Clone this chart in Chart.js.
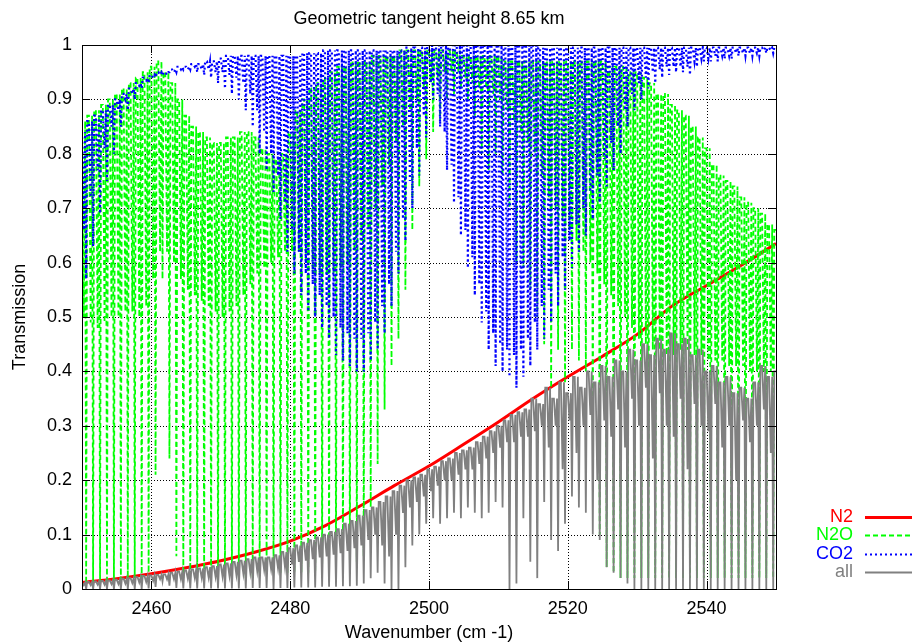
<!DOCTYPE html>
<html>
<head>
<meta charset="utf-8">
<script src="https://cdn.jsdelivr.net/npm/chart.js@4/dist/chart.umd.min.js"></script>
<style>
  html, body { margin: 0; padding: 0; background: #fff; }
  #chart { display: block; }
</style>
</head>
<body>
<canvas id="chart" width="912" height="643"></canvas>
<script>
// wavenumber grid (cm-1), one cell per line pair
const wavenumber = [
  2450,2451,2452,2453,2454,2455,2456,2457,2458,2459,
  2460,2461,2462,2463,2464,2465,2466,2467,2468,2469,
  2470,2471,2472,2473,2474,2475,2476,2477,2478,2479,
  2480,2481,2482,2483,2484,2485,2486,2487,2488,2489,
  2490,2491,2492,2493,2494,2495,2496,2497,2498,2499,
  2500,2501,2502,2503,2504,2505,2506,2507,2508,2509,
  2510,2511,2512,2513,2514,2515,2516,2517,2518,2519,
  2520,2521,2522,2523,2524,2525,2526,2527,2528,2529,
  2530,2531,2532,2533,2534,2535,2536,2537,2538,2539,
  2540,2541,2542,2543,2544,2545,2546,2547,2548,2549,
  2550
];

// N2 continuum
const n2Nu = [2450,2455,2460,2465,2470,2475,2480,2485,2490,2495,2500,2505,2510,2515,2520,2525,2530,2535,2540,2545,2550];
const n2Trans = [0.012,0.019,0.028,0.039,0.052,0.068,0.088,0.116,0.152,0.19,0.226,0.266,0.307,0.35,0.39,0.428,0.468,0.52,0.558,0.595,0.635];

// N2O: transmission between lines, weak-line minima, strong-line minima
const n2oTop = [
  0.86,0.87,0.88,0.89,0.90,0.91,0.92,0.93,0.94,0.95,
  0.96,0.97,0.95,0.93,0.90,0.87,0.85,0.84,0.83,0.82,
  0.82,0.83,0.83,0.84,0.84,0.83,0.81,0.80,0.79,0.80,
  0.84,0.88,0.90,0.92,0.93,0.94,0.95,0.96,0.96,0.97,
  0.97,0.97,0.98,0.98,0.98,0.98,0.99,0.99,0.99,0.99,
  0.99,0.99,0.99,0.99,0.99,0.98,0.98,0.98,0.98,0.98,
  0.98,0.97,0.97,0.97,0.97,0.97,0.97,0.97,0.97,0.97,
  0.97,0.97,0.97,0.97,0.97,0.97,0.96,0.96,0.96,0.95,
  0.95,0.94,0.93,0.91,0.91,0.89,0.88,0.87,0.85,0.83,
  0.81,0.78,0.76,0.75,0.74,0.72,0.71,0.70,0.69,0.67,
  0.66
];
const n2oWeak = [
  0.50,0.49,0.48,0.49,0.50,0.50,0.51,0.51,0.50,0.52,
  0.57,0.62,0.62,0.60,0.57,0.55,0.54,0.53,0.52,0.51,
  0.50,0.51,0.52,0.54,0.56,0.58,0.59,0.60,0.61,0.62,
  0.62,0.62,0.60,0.58,0.58,0.58,0.58,0.59,0.60,0.62,
  0.64,0.66,0.70,0.74,0.78,0.82,0.85,0.88,0.90,0.92,
  0.93,0.94,0.95,0.95,0.95,0.94,0.93,0.92,0.92,0.91,
  0.90,0.88,0.86,0.84,0.82,0.80,0.76,0.72,0.70,0.68,
  0.66,0.64,0.62,0.60,0.58,0.56,0.54,0.52,0.50,0.48,
  0.46,0.45,0.44,0.44,0.43,0.43,0.44,0.44,0.43,0.43,
  0.42,0.42,0.42,0.41,0.41,0.41,0.40,0.40,0.40,0.40
];
const n2oStrong = [
  0.01,0.01,0.01,0.01,0.01,0.01,0.02,0.02,0.02,0.03,
  0.21,0.57,0.24,0.06,0.02,0.02,0.02,0.02,0.02,0.02,
  0.02,0.02,0.02,0.02,0.02,0.03,0.03,0.03,0.03,0.03,
  0.03,0.03,0.03,0.03,0.03,0.04,0.04,0.04,0.04,0.05,
  0.06,0.15,0.23,0.33,0.41,0.46,0.55,0.66,0.74,0.79,
  0.84,0.86,0.90,0.91,0.92,0.90,0.87,0.80,0.77,0.80,
  0.76,0.70,0.60,0.59,0.55,0.50,0.45,0.37,0.44,0.38,
  0.44,0.42,0.40,0.30,0.10,0.04,0.03,0.02,0.02,0.02,
  0.02,0.02,0.02,0.02,0.02,0.02,0.02,0.02,0.02,0.02,
  0.02,0.02,0.02,0.02,0.02,0.02,0.02,0.02,0.02,0.02
];

// CO2
const co2Top = [
  0.84,0.86,0.87,0.88,0.89,0.90,0.91,0.92,0.93,0.94,
  0.945,0.95,0.95,0.955,0.96,0.96,0.965,0.965,0.97,0.97,
  0.975,0.98,0.98,0.98,0.98,0.98,0.98,0.98,0.98,0.98,
  0.98,0.98,0.985,0.985,0.985,0.99,0.99,0.99,0.99,0.99,
  0.99,0.99,0.99,0.99,0.99,0.99,0.99,0.995,0.995,0.995,
  1.0,1.0,1.0,1.0,1.0,1.0,1.0,1.0,1.0,1.0,
  1.0,1.0,1.0,1.0,1.0,1.0,0.995,0.995,0.995,0.995,
  0.995,0.995,0.995,0.995,0.995,0.995,0.995,0.995,0.995,0.995,
  0.995,0.995,0.995,0.995,0.995,0.995,0.995,0.995,0.995,0.995,
  0.995,0.995,0.995,0.995,0.995,0.995,0.995,0.995,0.995,0.995,
  0.995
];
const co2Weak = [
  0.66,0.72,0.77,0.81,0.85,0.88,0.90,0.91,0.925,0.935,
  0.94,0.945,0.945,0.95,0.955,0.955,0.96,0.955,0.955,0.95,
  0.95,0.945,0.94,0.93,0.91,0.88,0.84,0.80,0.76,0.71,
  0.66,0.62,0.58,0.56,0.54,0.52,0.50,0.48,0.47,0.46,
  0.46,0.47,0.49,0.52,0.56,0.62,0.68,0.75,0.81,0.87,
  0.93,0.91,0.84,0.78,0.72,0.66,0.61,0.56,0.51,0.47,
  0.45,0.44,0.43,0.44,0.46,0.49,0.52,0.55,0.58,0.61,
  0.64,0.67,0.70,0.73,0.76,0.79,0.82,0.85,0.88,0.91,
  0.93,0.94,0.95,0.955,0.96,0.96,0.96,0.96,0.97,0.975,
  0.975,0.98,0.98,0.98,0.985,0.985,0.985,0.985,0.99,0.99
];
const co2Strong = [
  0.57,0.63,0.69,0.75,0.80,0.85,0.88,0.90,0.92,0.93,
  0.94,0.945,0.95,0.95,0.955,0.955,0.95,0.945,0.94,0.93,
  0.92,0.91,0.90,0.88,0.85,0.80,0.77,0.73,0.68,0.62,
  0.58,0.54,0.51,0.50,0.48,0.46,0.43,0.42,0.41,0.40,
  0.40,0.42,0.44,0.47,0.52,0.58,0.64,0.70,0.76,0.83,
  0.90,0.85,0.77,0.71,0.65,0.59,0.54,0.49,0.44,0.41,
  0.40,0.39,0.37,0.39,0.41,0.44,0.46,0.49,0.52,0.55,
  0.59,0.62,0.65,0.68,0.71,0.74,0.77,0.80,0.85,0.88,
  0.90,0.92,0.93,0.94,0.945,0.95,0.95,0.945,0.96,0.97,
  0.97,0.97,0.975,0.975,0.98,0.98,0.98,0.98,0.985,0.985
];

// all species together
const allTop = [
  0.012,0.013,0.014,0.015,0.016,0.017,0.019,0.020,0.022,0.024,
  0.025,0.026,0.027,0.030,0.032,0.034,0.036,0.038,0.040,0.042,
  0.045,0.047,0.050,0.052,0.055,0.058,0.058,0.058,0.062,0.068,
  0.075,0.080,0.085,0.090,0.095,0.100,0.105,0.110,0.120,0.125,
  0.135,0.145,0.150,0.160,0.170,0.180,0.190,0.200,0.205,0.210,
  0.220,0.225,0.235,0.240,0.250,0.255,0.260,0.270,0.280,0.290,
  0.300,0.310,0.320,0.325,0.330,0.350,0.340,0.370,0.350,0.380,
  0.360,0.390,0.370,0.400,0.380,0.410,0.390,0.420,0.400,0.440,
  0.420,0.450,0.430,0.460,0.440,0.470,0.450,0.460,0.430,0.440,
  0.400,0.410,0.380,0.390,0.360,0.370,0.350,0.380,0.410,0.390,
  0.400
];
const allWeak = [
  0.007,0.007,0.008,0.008,0.009,0.009,0.010,0.011,0.012,0.013,
  0.015,0.018,0.018,0.018,0.018,0.019,0.020,0.020,0.021,0.022,
  0.023,0.024,0.026,0.028,0.030,0.033,0.035,0.036,0.038,0.040,
  0.045,0.050,0.052,0.055,0.058,0.060,0.063,0.066,0.070,0.075,
  0.080,0.090,0.100,0.080,0.060,0.100,0.140,0.150,0.160,0.170,
  0.180,0.190,0.200,0.200,0.210,0.220,0.220,0.230,0.240,0.250,
  0.260,0.270,0.270,0.280,0.280,0.290,0.300,0.260,0.300,0.220,
  0.310,0.250,0.300,0.320,0.200,0.310,0.280,0.330,0.260,0.350,
  0.300,0.370,0.240,0.360,0.300,0.280,0.350,0.220,0.340,0.300,
  0.290,0.340,0.260,0.300,0.200,0.310,0.270,0.300,0.330,0.250
];
const allStrong = [
  0.0,0.0,0.0,0.0,0.0,0.0,0.0,0.0,0.0,0.001,
  0.004,0.014,0.006,0.002,0.001,0.001,0.001,0.001,0.001,0.001,
  0.001,0.001,0.001,0.001,0.002,0.002,0.002,0.0,0.002,0.002,
  0.003,0.003,0.003,0.003,0.004,0.004,0.004,0.005,0.005,0.006,
  0.010,0.020,0.030,0.010,0.0,0.0,0.040,0.080,0.100,0.120,
  0.130,0.120,0.130,0.140,0.130,0.150,0.140,0.130,0.140,0.160,
  0.150,0.0,0.010,0.130,0.050,0.020,0.160,0.090,0.070,0.120,
  0.170,0.150,0.140,0.100,0.090,0.040,0.030,0.020,0.010,0.0,
  0.0,0.0,0.0,0.0,0.0,0.0,0.0,0.0,0.0,0.0,
  0.0,0.0,0.0,0.0,0.0,0.0,0.0,0.0,0.0,0.0
];

const xTicks = [2460, 2480, 2500, 2520, 2540];
const yTickLabels = ['0','0.1','0.2','0.3','0.4','0.5','0.6','0.7','0.8','0.9','1'];

const FONT = '"Liberation Sans", Arial, Helvetica, sans-serif';

// each cell: top, weak line minimum, top, strong line minimum, top
function spectrum(top, weak, strong) {
  const pts = [];
  for (let i = 0; i < strong.length; i++) {
    const nu = wavenumber[i];
    pts.push({ x: nu, y: top[i] });
    pts.push({ x: nu + 0.25, y: weak[i] });
    pts.push({ x: nu + 0.45, y: top[i] });
    pts.push({ x: nu + 0.6, y: strong[i] });
    pts.push({ x: nu + 0.75, y: top[i + 1] });
  }
  pts.push({ x: wavenumber[wavenumber.length - 1], y: top[top.length - 1] });
  return pts;
}

const series = [
  { label: 'N2',  color: '#ff0000', width: 3,   dash: [] },
  { label: 'N2O', color: '#00ff00', width: 1.8, dash: [5, 3] },
  { label: 'CO2', color: '#0000ff', width: 2.2, dash: [2, 3] },
  { label: 'all', color: '#808080', width: 1.8, dash: [] }
];

const framePlugin = {
  id: 'gnuplotFrame',
  beforeDatasetsDraw(chart) {
    const { ctx, chartArea: a, scales: { x, y } } = chart;
    ctx.save();
    ctx.strokeStyle = '#000';
    ctx.lineWidth = 1;
    ctx.setLineDash([1, 2]);
    xTicks.forEach(v => {
      const px = Math.round(x.getPixelForValue(v)) + 0.5;
      ctx.beginPath(); ctx.moveTo(px, a.top); ctx.lineTo(px, a.bottom); ctx.stroke();
    });
    for (let i = 1; i < yTickLabels.length - 1; i++) {
      const py = Math.round(y.getPixelForValue(i / 10)) + 0.5;
      ctx.beginPath(); ctx.moveTo(a.left, py); ctx.lineTo(a.right, py); ctx.stroke();
    }
    ctx.restore();
  },
  afterDatasetsDraw(chart) {
    const { ctx, chartArea: a, scales: { x, y } } = chart;
    ctx.save();
    ctx.strokeStyle = '#000';
    ctx.lineWidth = 1;
    ctx.setLineDash([]);
    ctx.strokeRect(Math.round(a.left) + 0.5, Math.round(a.top) + 0.5,
                   Math.round(a.right - a.left), Math.round(a.bottom - a.top));
    const tl = 8;
    ctx.beginPath();
    xTicks.forEach(v => {
      const px = Math.round(x.getPixelForValue(v)) + 0.5;
      ctx.moveTo(px, a.bottom); ctx.lineTo(px, a.bottom - tl);
      ctx.moveTo(px, a.top); ctx.lineTo(px, a.top + tl);
    });
    for (let i = 0; i < yTickLabels.length; i++) {
      const py = Math.round(y.getPixelForValue(i / 10)) + 0.5;
      ctx.moveTo(a.left, py); ctx.lineTo(a.left + tl, py);
      ctx.moveTo(a.right, py); ctx.lineTo(a.right - tl, py);
    }
    ctx.stroke();

    // titles
    ctx.fillStyle = '#000';
    ctx.font = '18px ' + FONT;
    ctx.textAlign = 'center';
    ctx.textBaseline = 'alphabetic';
    ctx.fillText('Geometric tangent height 8.65 km', (a.left + a.right) / 2, 24);
    ctx.fillText('Wavenumber (cm -1)', (a.left + a.right) / 2, 638);
    ctx.save();
    ctx.translate(25, (a.top + a.bottom) / 2);
    ctx.rotate(-Math.PI / 2);
    ctx.fillText('Transmission', 0, 0);
    ctx.restore();

    // legend
    ctx.textAlign = 'right';
    ctx.textBaseline = 'middle';
    series.forEach((s, i) => {
      const ly = 517 + i * 18.3;
      ctx.fillStyle = s.color;
      ctx.fillText(s.label, 853, ly);
      ctx.strokeStyle = s.color;
      ctx.lineWidth = s.width;
      ctx.setLineDash(s.dash);
      ctx.beginPath(); ctx.moveTo(865, Math.round(ly) + 0.5); ctx.lineTo(930, Math.round(ly) + 0.5); ctx.stroke();
    });
    ctx.restore();
  }
};

const ctx = document.getElementById('chart').getContext('2d');
new Chart(ctx, {
  type: 'line',
  data: {
    datasets: [
      { data: n2Nu.map((v, i) => ({ x: v, y: n2Trans[i] })), cubicInterpolationMode: 'monotone', order: 3 },
      { data: spectrum(n2oTop, n2oWeak, n2oStrong), order: 2 },
      { data: spectrum(co2Top, co2Weak, co2Strong), order: 1 },
      { data: spectrum(allTop, allWeak, allStrong), order: 0 }
    ].map((d, i) => Object.assign(d, {
      label: series[i].label,
      borderColor: series[i].color,
      backgroundColor: series[i].color,
      borderWidth: series[i].width,
      borderDash: series[i].dash,
      pointRadius: 0,
      fill: false,
      tension: 0
    }))
  },
  options: {
    responsive: false,
    animation: false,
    devicePixelRatio: 1,
    layout: { padding: { top: 45, right: 136, left: 0, bottom: 0 } },
    plugins: { legend: { display: false }, title: { display: false }, tooltip: { enabled: false } },
    scales: {
      x: {
        type: 'linear', min: 2450, max: 2550,
        grid: { display: false, drawTicks: false },
        border: { display: false },
        afterBuildTicks: s => { s.ticks = xTicks.map(v => ({ value: v })); },
        afterFit: s => { s.height = 54; },
        ticks: { font: { family: FONT, size: 18 }, color: '#000', padding: 9, maxRotation: 0,
                 callback: (v, i) => String(xTicks[i]) }
      },
      y: {
        min: 0, max: 1,
        grid: { display: false, drawTicks: false },
        border: { display: false },
        afterFit: s => { s.width = 82; },
        ticks: { stepSize: 0.1, font: { family: FONT, size: 18 }, color: '#000', padding: 10,
                 callback: (v, i) => yTickLabels[i] }
      }
    }
  },
  plugins: [framePlugin]
});
</script>
</body>
</html>
